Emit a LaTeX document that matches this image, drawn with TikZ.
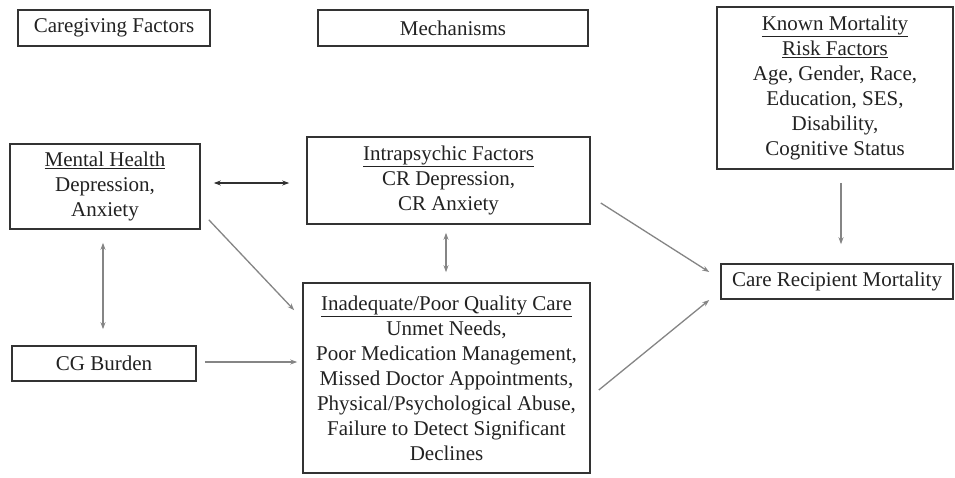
\documentclass[tikz,border=0pt]{standalone}
\usepackage{fontspec}
\setmainfont{Liberation Serif}
\usetikzlibrary{arrows.meta,calc}
\definecolor{boxline}{HTML}{333333}
\definecolor{arrowgray}{HTML}{858585}
\definecolor{arrowdark}{HTML}{303030}
\definecolor{txt}{HTML}{222222}
\tikzset{
  box/.style={draw=boxline, line width=1.6pt, rectangle, inner sep=0pt, align=center,
    text=txt, font=\fontsize{21}{25}\selectfont},
  conn/.style={draw=arrowgray, line width=1.3pt, -{Stealth[length=7pt,width=5pt]}},
  biconn/.style={draw=arrowgray, line width=1.3pt, {Stealth[length=7pt,width=5pt]}-{Stealth[length=7pt,width=5pt]}}
}
\begin{document}
\begin{tikzpicture}[x=1pt,y=-1pt]
\useasboundingbox (0,0) rectangle (955,477);
\fill[white] (0,0) rectangle (955,477);

\node[box, minimum width=192pt, minimum height=36pt] (cgf) at (114,28) {Caregiving Factors};
\node[box, minimum width=270pt, minimum height=36pt] (mech) at (453,28) {Mechanisms};
\node[box, minimum width=236pt, minimum height=162pt] (known) at (835,88)
  {\underline{Known Mortality}\\\underline{Risk Factors}\\Age, Gender, Race,\\Education, SES,\\Disability,\\Cognitive Status};
\node[box, minimum width=190pt, minimum height=85pt] (mental) at (105,186.5)
  {\underline{Mental Health}\\Depression,\\Anxiety};
\node[box, minimum width=283pt, minimum height=87pt] (intra) at (448.5,180.5)
  {\underline{Intrapsychic Factors}\\CR Depression,\\CR Anxiety};
\node[box, minimum width=287pt, minimum height=190pt] (inad) at (446.5,378)
  {\underline{Inadequate/Poor Quality Care}\\Unmet Needs,\\Poor Medication Management,\\Missed Doctor Appointments,\\Physical/Psychological Abuse,\\Failure to Detect Significant\\Declines};
\node[box, minimum width=184pt, minimum height=35pt] (cgb) at (104,363.5) {CG Burden};
\node[box, minimum width=232pt, minimum height=35pt] (crm) at (837,281.5) {Care Recipient Mortality};

% connectors
\draw[biconn, draw=arrowdark, shorten <=13pt, shorten >=17pt] ($(mental.east)+(0,-3.5)$) -- ($(intra.west)+(0,2.5)$);
\draw[biconn, shorten <=13pt, shorten >=16pt] ($(mental.south)+(-2,0)$) -- ($(cgb.north)+(-1,0)$);
\draw[biconn, shorten <=8pt, shorten >=10pt] ($(intra.south)+(-2.5,0)$) -- ($(inad.north)+(-0.5,0)$);
\draw[conn] ($(mental.south east)+(8,-10)$) -- ($(inad.north west)+(-8,28)$);
\draw[conn, shorten <=8pt, shorten >=5pt] ($(cgb.east)+(0,-1.5)$) -- ($(inad.west)+(0,-16)$);
\draw[conn] ($(intra.east)+(10,22.5)$) -- ($(crm.west)+(-11,-9.5)$);
\draw[conn] ($(inad.east)+(8,12)$) -- ($(crm.west)+(-11,18.5)$);
\coordinate (ks) at ($(known.south)+(6,13)$);
\draw[conn, shorten >=19pt] (ks) -- (ks |- crm.north);
\end{tikzpicture}
\end{document}
